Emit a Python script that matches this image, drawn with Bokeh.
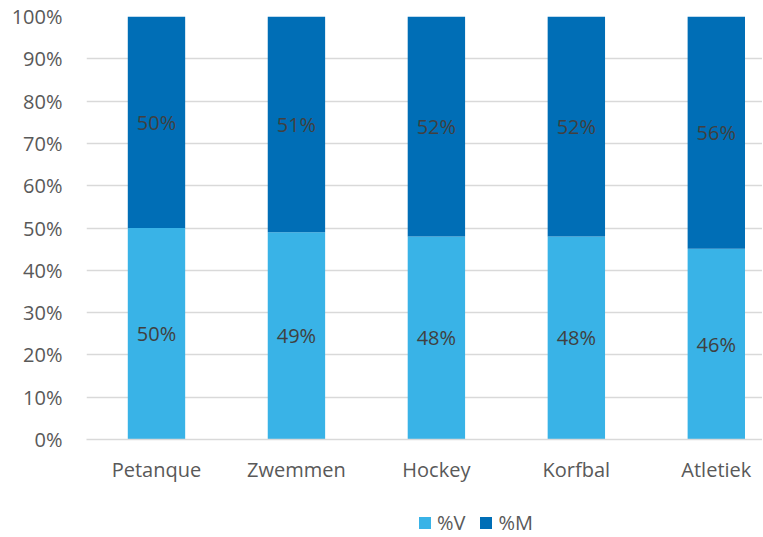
from bokeh.plotting import figure
from bokeh.layouts import column
from bokeh.models import ColumnDataSource, NumeralTickFormatter, FixedTicker, Legend, LegendItem, LabelSet
from bokeh.core.properties import value
from bokeh.embed import file_html
from bokeh.resources import INLINE

categories = ["Petanque", "Zwemmen", "Hockey", "Korfbal", "Atletiek"]
pct_v = [50, 49, 48, 48, 46]
pct_m = [50, 51, 52, 52, 56]
y_ticks = [0, 0.1, 0.2, 0.3, 0.4, 0.5, 0.6, 0.7, 0.8, 0.9, 1.0]
series_names = ["%V", "%M"]

FONT = "Open Sans"
FS = "20px"
C_V = "#39B3E7"
C_M = "#006EB6"

xs = list(range(len(categories)))
tot = [v + m for v, m in zip(pct_v, pct_m)]
fv = [v / t for v, t in zip(pct_v, tot)]
fm = [m / t for m, t in zip(pct_m, tot)]

src = ColumnDataSource(dict(
    x=xs, fv=fv, fm=fm,
    ymid_v=[a / 2 for a in fv],
    ymid_m=[a + b / 2 for a, b in zip(fv, fm)],
    lab_v=[f"{v}%" for v in pct_v],
    lab_m=[f"{m}%" for m in pct_m],
))

p = figure(width=762, height=489, x_range=(-0.5, 4.33), y_range=(0, 1),
           output_backend="svg", toolbar_location=None,
           min_border_top=16, min_border_left=86, min_border_right=0, min_border_bottom=50)
p.outline_line_color = None

r = p.vbar_stack(["fv", "fm"], x="x", width=0.41, source=src,
                 color=[C_V, C_M], line_color=None)

for col_y, col_t in (("ymid_v", "lab_v"), ("ymid_m", "lab_m")):
    p.add_layout(LabelSet(x="x", y=col_y, text=col_t, source=src,
                          text_align="center", text_baseline="middle",
                          text_font=value(FONT), text_font_size=value(FS),
                          text_color="#404040"))

p.xgrid.grid_line_color = None
p.ygrid.grid_line_color = "#D9D9D9"
p.ygrid.grid_line_width = 1.5
p.yaxis.ticker = FixedTicker(ticks=y_ticks)
p.yaxis.formatter = NumeralTickFormatter(format="0%")
p.yaxis.axis_line_color = None
p.yaxis.major_tick_line_color = None
p.yaxis.minor_tick_line_color = None
p.yaxis.major_tick_out = 0
p.yaxis.major_label_standoff = 24
p.xaxis.ticker = FixedTicker(ticks=xs)
p.xaxis.major_label_overrides = {i: c for i, c in enumerate(categories)}
p.xaxis.axis_line_color = "#D9D9D9"
p.xaxis.axis_line_width = 1.5
p.xaxis.major_tick_line_color = None
p.xaxis.minor_tick_line_color = None
p.xaxis.major_label_standoff = 10
for ax in (p.xaxis, p.yaxis):
    ax.major_label_text_font = FONT
    ax.major_label_text_font_size = FS
    ax.major_label_text_color = "#595959"

# legend strip below the chart (proxy renderers sit outside the visible range)
pl = figure(width=762, height=47, x_range=(0, 1), y_range=(0, 1),
            output_backend="svg", toolbar_location=None,
            min_border=0, outline_line_color=None)
pl.axis.visible = False
pl.grid.visible = False
proxy = ColumnDataSource(dict(x=[-5], top=[0]))
rv = pl.vbar(x="x", top="top", width=0.1, color=C_V, line_color=None, source=proxy)
rm = pl.vbar(x="x", top="top", width=0.1, color=C_M, line_color=None, source=proxy)
legend = Legend(items=[LegendItem(label=series_names[0], renderers=[rv]),
                       LegendItem(label=series_names[1], renderers=[rm])],
                orientation="horizontal", location=(331, 0),
                label_text_font=FONT, label_text_font_size=FS,
                label_text_color="#595959", border_line_color=None,
                background_fill_alpha=0,
                glyph_width=15, glyph_height=15, spacing=13, label_standoff=5,
                padding=0, margin=0)
pl.add_layout(legend)

open("out.html", "w").write(file_html(column(p, pl, spacing=0), INLINE))
